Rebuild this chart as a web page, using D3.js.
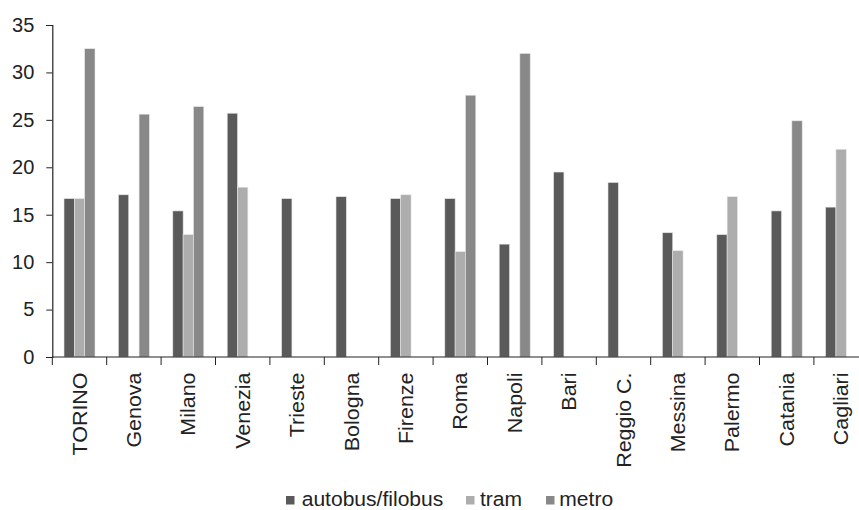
<!DOCTYPE html>
<html><head><meta charset="utf-8">
<script src="https://cdn.jsdelivr.net/npm/d3@7"></script>
<style>body{margin:0;background:#fff}svg{display:block}text{font-family:"Liberation Sans",Arial,sans-serif;fill:#222}</style>
</head><body><svg id="c" width="859" height="510"></svg>
<script>
const categories = ["TORINO","Genova","Milano","Venezia","Trieste","Bologna","Firenze","Roma","Napoli","Bari","Reggio C.","Messina","Palermo","Catania","Cagliari"];
const seriesNames = ["autobus/filobus","tram","metro"];
const autobus = [16.7,17.1,15.4,25.7,16.7,16.9,16.7,16.7,11.9,19.5,18.4,13.1,12.9,15.4,15.8];
const tram    = [16.7,null,12.9,17.9,null,null,17.1,11.1,null,null,null,11.2,16.9,null,21.9];
const metro   = [32.5,25.6,26.4,null,null,null,null,27.6,32.0,null,null,null,null,24.9,null];
const yTicks = [0,5,10,15,20,25,30,35];
const colors = ["#5a5a5a","#adadad","#888888"];

const series = [autobus, tram, metro];
const svg = d3.select("#c");
const x = d3.scaleBand().domain(categories).range([52.3, 868.3]);
const xs = d3.scaleBand().domain(seriesNames).range([0, 31]);
const y = d3.scaleLinear().domain([0,35]).range([357,25]);

const off = (x.bandwidth()-31)/2;
const g = svg.append("g");
series.forEach((vals, si) => {
  g.selectAll(null).data(categories.map((c,i)=>({c, v: vals[i]})).filter(d=>d.v!=null))
   .enter().append("rect")
   .attr("x", d => x(d.c) + off + xs(seriesNames[si]))
   .attr("width", xs.bandwidth())
   .attr("y", d => y(d.v))
   .attr("height", d => y(0) - y(d.v))
   .attr("fill", colors[si])
   .attr("stroke", "#e6e6e6").attr("stroke-width", 0.6);
});

// y axis
const ya = svg.append("g").attr("transform","translate(52.3,0)")
  .call(d3.axisLeft(y).tickValues(yTicks).tickSize(6).tickPadding(12));
ya.select(".domain").attr("stroke","#222").attr("stroke-width",1.2);
ya.selectAll(".tick line").attr("stroke","#222");
ya.selectAll("text").attr("font-size","20px").attr("fill","#222").attr("font-family","Liberation Sans, Arial, sans-serif");

// x axis
const xa = svg.append("g").attr("transform","translate(0,357)");
xa.append("line").attr("x1",52.3).attr("x2",868.3).attr("y1",0).attr("y2",0).attr("stroke","#222").attr("stroke-width",1.2);
xa.selectAll(null).data(categories).enter().append("line")
  .attr("x1", d=>x(d)).attr("x2", d=>x(d)).attr("y1",0).attr("y2",8).attr("stroke","#222");
xa.selectAll(null).data(categories).enter().append("text")
  .attr("transform", d => `translate(${x(d)+x.bandwidth()/2+7},15.5) rotate(-90) scale(1.1,1)`)
  .attr("text-anchor","end").attr("font-size","19.5px").text(d=>d);

// legend
const lg = svg.append("g");
const legX = [286, 466, 546];
const legT = [301.7, 480, 559.3];
seriesNames.forEach((n,i)=>{
  lg.append("rect").attr("x",legX[i]).attr("y",496).attr("width",8.5).attr("height",8.5).attr("fill",colors[i]);
  lg.append("text").attr("transform",`translate(${legT[i]},505.5) scale(1.08,1)`).attr("font-size","19.5px").text(n);
});
</script></body></html>
